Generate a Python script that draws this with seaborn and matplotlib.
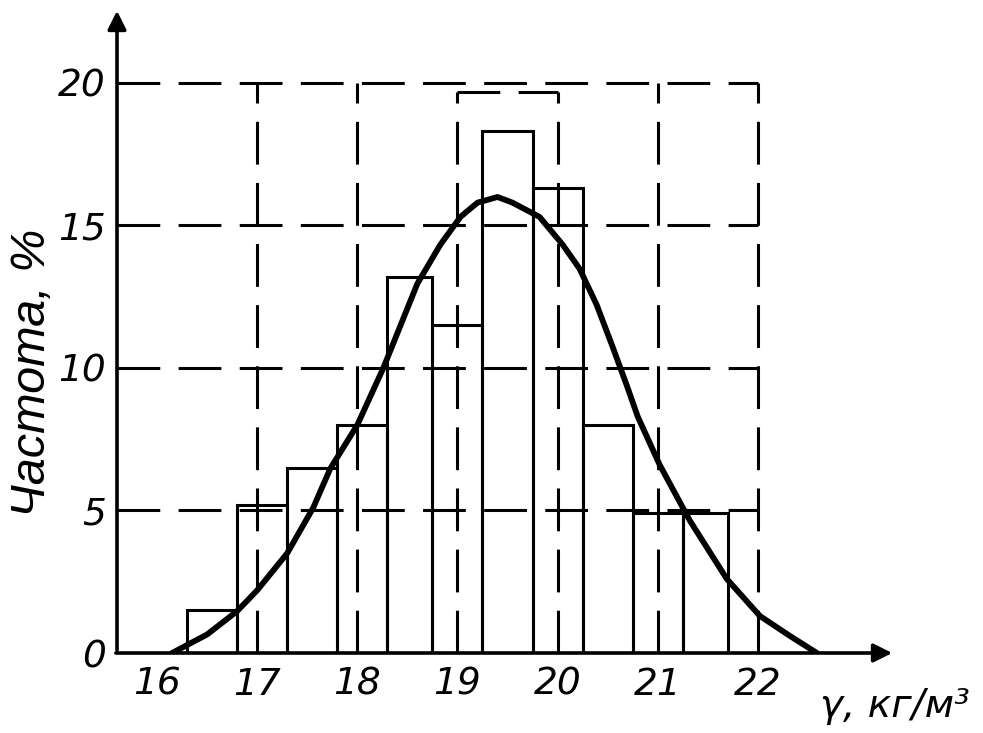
import numpy as np
import seaborn as sns
import matplotlib.pyplot as plt

# гистограмма: границы интервалов и частоты, %
bin_edges = [16.3, 16.8, 17.3, 17.8, 18.3, 18.75, 19.25, 19.75, 20.25, 20.75, 21.25, 21.7]
freq = [1.5, 5.2, 6.5, 8.0, 13.2, 11.5, 18.3, 16.3, 8.0, 4.9, 4.9]

# теоретическая кривая (точки)
curve_x = [16.15, 16.5, 16.8, 17.0, 17.3, 17.56, 17.73, 18.0, 18.26, 18.43, 18.6,
           18.83, 19.03, 19.2, 19.4, 19.55, 19.82, 20.05, 20.22, 20.39, 20.55,
           20.69, 20.8, 21.02, 21.32, 21.69, 22.02, 22.32, 22.59]
curve_y = [0.0, 0.65, 1.47, 2.2, 3.5, 5.1, 6.47, 8.0, 10.0, 11.48, 12.96,
           14.33, 15.3, 15.8, 16.0, 15.8, 15.3, 14.33, 13.48, 12.22, 10.74,
           9.4, 8.3, 6.6, 4.65, 2.6, 1.3, 0.6, 0.0]

x_ticks = [16, 17, 18, 19, 20, 21, 22]
y_ticks = [0, 5, 10, 15, 20]

sns.set_style("white")
plt.rcParams['font.family'] = ['Liberation Sans Narrow', 'DejaVu Sans']
plt.rcParams['font.style'] = 'italic'
plt.rcParams['text.color'] = 'black'
plt.rcParams['axes.labelcolor'] = 'black'
plt.rcParams['xtick.color'] = 'black'
plt.rcParams['ytick.color'] = 'black'

fig = plt.figure(figsize=(9.83, 7.33), dpi=100)
ax = fig.add_axes([117 / 983, 80 / 733, 778 / 983, 645 / 733])

dash = (0, (14, 6))
gkw = dict(color='black', linewidth=2.2, linestyles=dash)
# сетка
ax.hlines([5, 10, 15, 20], 15.6, 22, **gkw)
ax.vlines([17, 18, 21, 22], 0, 20, **gkw)
ax.vlines([19, 20], 0, 19.7, **gkw)
ax.hlines([19.7], 19, 20, **gkw)

mids = [(a + b) / 2 for a, b in zip(bin_edges[:-1], bin_edges[1:])]
sns.histplot(x=mids, weights=freq, bins=bin_edges, fill=False, color='black',
             linewidth=2.2, ax=ax)

sns.lineplot(x=curve_x, y=curve_y, color='black', linewidth=4.2, ax=ax,
             solid_joinstyle='round', solid_capstyle='round')

ax.set_xlim(15.6, 23.37)
ax.set_ylim(0, 22.63)
for s in ax.spines.values():
    s.set_visible(False)

arr = dict(arrowstyle='-|>', color='black', lw=2.6, mutation_scale=28)
ax.annotate('', xy=(0, 1), xytext=(0, 0), xycoords='axes fraction', arrowprops=arr)
ax.annotate('', xy=(1, 0), xytext=(-0.005, 0), xycoords='axes fraction', arrowprops=arr)

ax.set_xticks(x_ticks)
ax.set_yticks(y_ticks)
ax.tick_params(axis='both', length=0, labelsize=27)
ax.tick_params(axis='x', pad=10)
ax.tick_params(axis='y', pad=8)

ax.set_xlabel('')
ax.set_ylabel('Частота, %', fontsize=35, family=['Liberation Sans', 'DejaVu Sans'])
ax.yaxis.set_label_coords(-0.08, 0.435)

ax.text(22.62, -2.25, 'γ, кг/м³', fontsize=28, va='baseline', ha='left', clip_on=False)

fig.savefig('out.png', dpi=100)
